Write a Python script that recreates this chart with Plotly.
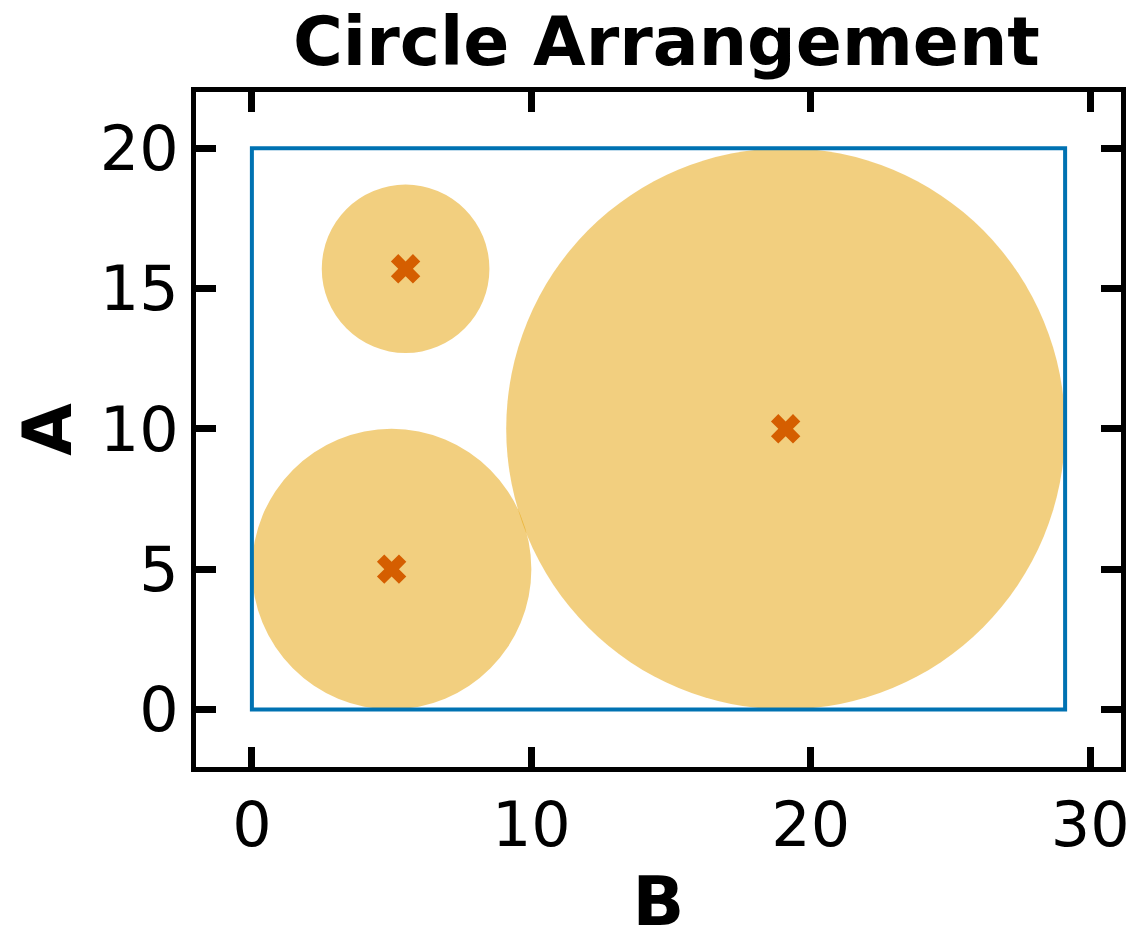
import plotly.graph_objects as go

cx = [5.0, 5.5, 19.1]
cy = [5.0, 15.7, 10.0]
radii = [5.0, 3.0, 10.0]
rect_w, rect_h = 29.1, 20.0
x_ticks = [0, 10, 20, 30]
y_ticks = [0, 5, 10, 15, 20]

fig = go.Figure()
shapes = []
for x, y, r in zip(cx, cy, radii):
    shapes.append(dict(type="circle", xref="x", yref="y", x0=x - r, x1=x + r, y0=y - r, y1=y + r,
                       fillcolor="rgba(230,159,0,0.5)", line=dict(width=0), layer="below"))
shapes.append(dict(type="rect", xref="x", yref="y", x0=0, x1=rect_w, y0=0, y1=rect_h,
                   line=dict(color="#0072b2", width=4), fillcolor="rgba(0,0,0,0)"))
fig.add_trace(go.Scatter(x=cx, y=cy, mode="markers",
                         marker=dict(symbol="x", size=26, color="#d55e00", line=dict(width=0)),
                         showlegend=False))
ax = dict(showgrid=False, zeroline=False, ticks="inside", ticklen=20, tickwidth=7, tickcolor="black",
          showline=True, linecolor="black", linewidth=5, mirror="ticks",
          tickfont=dict(size=62, color="black", family="DejaVu Sans"))
fig.update_layout(
    width=1145, height=939, plot_bgcolor="white", paper_bgcolor="white",
    margin=dict(l=188, r=32, t=84, b=180), shapes=shapes,
    title=dict(text="<b>Circle Arrangement</b>", x=0.575, xanchor="center", y=0.99, yanchor="top",
               font=dict(size=68, color="black", family="DejaVu Sans")),
    xaxis=dict(ax, range=[-2, 31.1], tickvals=x_ticks,
               title=dict(text="<b>B</b>", font=dict(size=68, color="black", family="DejaVu Sans"), standoff=18)),
    yaxis=dict(ax, range=[-2.05, 22.0], tickvals=y_ticks,
               title=dict(text="<b>A</b>", font=dict(size=68, color="black", family="DejaVu Sans"), standoff=14)),
)
fig.write_html("out.html")
